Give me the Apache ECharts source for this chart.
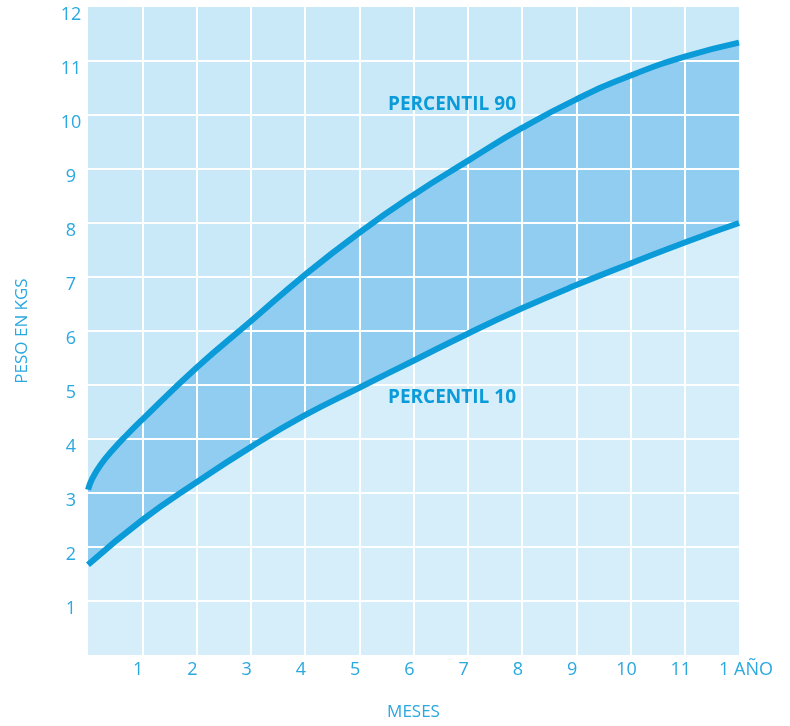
<!DOCTYPE html>
<html>
<head>
<meta charset="utf-8">
<script src="https://cdn.jsdelivr.net/npm/echarts@6/dist/echarts.min.js"></script>
<style>html,body{margin:0;padding:0;background:#fff;}#c{width:790px;height:726px;}</style>
</head>
<body>
<div id="c"></div>
<script>
var monthsP90 = [0, 0.08, 0.23, 0.45, 0.7, 1, 2, 3, 4, 5, 6, 7, 8, 9, 10, 11, 12];
var p90 = [3.06, 3.27, 3.52, 3.79, 4.06, 4.36, 5.32, 6.18, 7.04, 7.82, 8.52, 9.15, 9.76, 10.29, 10.73, 11.08, 11.34];
var monthsP10 = [0, 1, 2, 3, 4, 5, 6, 7, 8, 9, 10, 11, 12];
var p10 = [1.67, 2.5, 3.2, 3.85, 4.44, 4.95, 5.45, 5.95, 6.42, 6.85, 7.25, 7.64, 8.0];
var xTicks = ['', '1', '2', '3', '4', '5', '6', '7', '8', '9', '10', '11', '1 AÑO'];
var yTicks = ['', '1', '2', '3', '4', '5', '6', '7', '8', '9', '10', '11', '12'];

function pairs(xs, ys) { return xs.map(function (x, i) { return [x, ys[i]]; }); }

var textColor = '#2aa8e0';
var lineColor = '#0a9bd8';
var font = 'Open Sans';
var sm = 0.5;

var chart = echarts.init(document.getElementById('c'));
chart.setOption({
  animation: false,
  grid: {
    left: 88, right: 51, top: 7, bottom: 67,
    show: true, backgroundColor: '#c9e9f9', borderWidth: 0
  },
  xAxis: {
    type: 'value', min: 0, max: 12, interval: 1, z: 3,
    name: 'MESES', nameLocation: 'middle', nameGap: 49,
    nameTextStyle: { color: textColor, fontSize: 17, fontFamily: font },
    axisLine: { show: false }, axisTick: { show: false },
    splitLine: { show: true, showMinLine: false, showMaxLine: false, lineStyle: { color: '#ffffff', width: 2 } },
    axisLabel: {
      color: textColor, fontSize: 18, fontFamily: font, margin: 6,
      formatter: function (v) {
        var t = xTicks[Math.round(v)];
        if (Math.round(v) === 12) return '{a|' + t + '}';
        return t;
      },
      padding: [0, 8, 0, 0],
      rich: { a: { color: textColor, fontSize: 18, fontFamily: font, padding: [0, 0, 0, 22] } }
    }
  },
  yAxis: {
    type: 'value', min: 0, max: 12, interval: 1, z: 3,
    name: 'PESO EN KGS', nameLocation: 'middle', nameGap: 57,
    nameTextStyle: { color: textColor, fontSize: 17, fontFamily: font },
    axisLine: { show: false }, axisTick: { show: false },
    splitLine: { show: true, showMinLine: false, showMaxLine: false, lineStyle: { color: '#ffffff', width: 2 } },
    axisLabel: {
      color: textColor, fontSize: 18, fontFamily: font, margin: 17, align: 'center',
      verticalAlign: 'top', lineHeight: 15,
      formatter: function (v) { return yTicks[Math.round(v)]; }
    }
  },
  series: [
    {
      type: 'line', data: pairs(monthsP90, p90), smooth: sm, symbol: 'none', z: 1,
      lineStyle: { width: 0 }, areaStyle: { color: '#90cdf0', opacity: 1 }, silent: true
    },
    {
      type: 'line', data: pairs(monthsP10, p10), smooth: sm, symbol: 'none', z: 1,
      lineStyle: { width: 0 }, areaStyle: { color: '#d5eefa', opacity: 1 }, silent: true
    },
    {
      type: 'line', data: pairs(monthsP90, p90), smooth: sm, symbol: 'none', z: 5,
      lineStyle: { width: 6, color: lineColor }
    },
    {
      type: 'line', data: pairs(monthsP10, p10), smooth: sm, symbol: 'none', z: 5,
      lineStyle: { width: 6, color: lineColor }
    }
  ],
  graphic: [
    { type: 'text', left: 388, top: 95, z: 10,
      style: { text: 'PERCENTIL 90', fill: lineColor, font: 'bold 19px "Open Sans"' } },
    { type: 'text', left: 388, top: 388, z: 10,
      style: { text: 'PERCENTIL 10', fill: lineColor, font: 'bold 19px "Open Sans"' } }
  ]
});
</script>
</body>
</html>
